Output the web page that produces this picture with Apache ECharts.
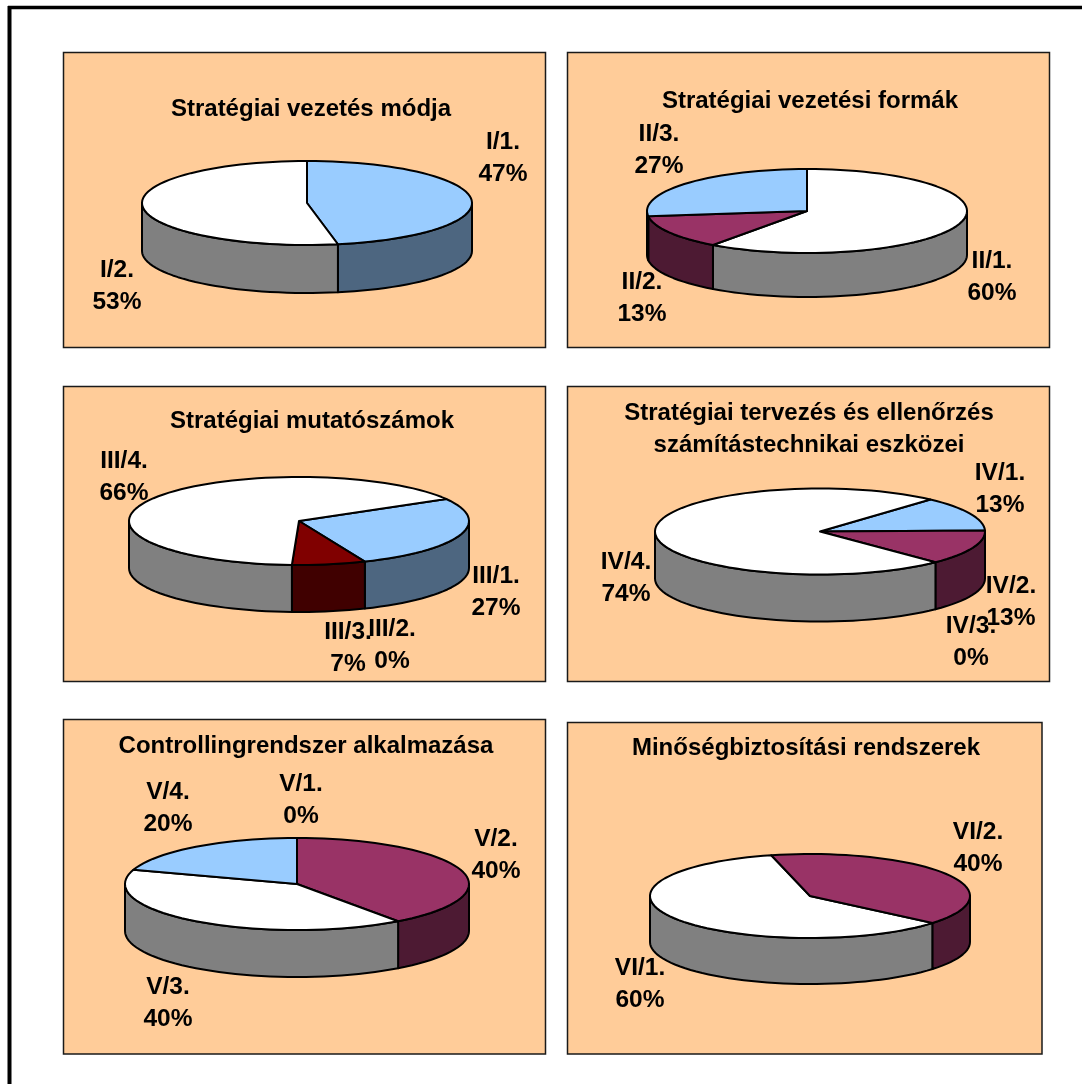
<!DOCTYPE html>
<html><head><meta charset="utf-8">
<style>html,body{margin:0;padding:0;background:#fff}#c{width:1082px;height:1084px}</style>
<script src="https://cdn.jsdelivr.net/npm/echarts@6/dist/echarts.min.js"></script>
</head><body><div id="c"></div>
<script>
// ---- chart values (percent) ----
const titles = [
  'Stratégiai vezetés módja',
  'Stratégiai vezetési formák',
  'Stratégiai mutatószámok',
  'Stratégiai tervezés és ellenőrzés\nszámítástechnikai eszközei',
  'Controllingrendszer alkalmazása',
  'Minőségbiztosítási rendszerek'
];
const names1 = ['I/1.', 'I/2.'];
const values1 = [47, 53];
const names2 = ['II/1.', 'II/2.', 'II/3.'];
const values2 = [60, 13, 27];
const names3 = ['III/1.', 'III/2.', 'III/3.', 'III/4.'];
const values3 = [27, 0, 7, 66];
const names4 = ['IV/1.', 'IV/2.', 'IV/3.', 'IV/4.'];
const values4 = [13, 13, 0, 74];
const names5 = ['V/1.', 'V/2.', 'V/3.', 'V/4.'];
const values5 = [0, 40, 40, 20];
const names6 = ['VI/1.', 'VI/2.'];
const values6 = [60, 40];

// ---- styling ----
const BLUE = ['#99CCFF', '#4D6680'], PURPLE = ['#993366', '#4D1A33'],
      WHITE = ['#FFFFFF', '#808080'], RED = ['#800000', '#400000'];
const FONT = 'bold 24.5px "Liberation Sans", Arial, sans-serif';

// ---- layout of the six panels ----
const panels = [
  {names:names1, values:values1, colors:[BLUE,WHITE], rect:[63,52,482,295], cx:307, cy:203, rx:165, ry:42, depth:48, start:0,
   titlePos:[311,109], labels:[[503,158],[117,286]]},
  {names:names2, values:values2, colors:[WHITE,PURPLE,BLUE], rect:[567,52,482,295], cx:807, cy:211, rx:160, ry:42, depth:44, start:0,
   titlePos:[810,101], labels:[[992,277],[642,298],[659,150]]},
  {names:names3, values:values3, colors:[BLUE,PURPLE,RED,WHITE], rect:[63,386,482,295], cx:299, cy:521, rx:170, ry:44, depth:47, start:60,
   titlePos:[312,421], labels:[[496,592],[392,645],[348,648],[124,477]]},
  {names:names4, values:values4, colors:[BLUE,PURPLE,WHITE,WHITE], rect:[567,386,482,295], cx:820, cy:531.5, rx:165, ry:43, depth:47, start:42,
   titlePos:[809,413], labels:[[1000,489],[1011,602],[971,642],[626,578]]},
  {names:names5, values:values5, colors:[BLUE,PURPLE,WHITE,BLUE], rect:[63,719,482,334.5], cx:297, cy:884, rx:172, ry:46, depth:47, start:0,
   titlePos:[306,746], labels:[[301,800],[496,855],[168,1003],[168,808]]},
  {names:names6, values:values6, colors:[WHITE,PURPLE], rect:[567,722,474.5,331.5], cx:810, cy:896, rx:160, ry:42, depth:46, start:130,
   titlePos:[806,748], labels:[[640,984],[978,848]]}
];

function arcPts(p, a0, a1, dy) {
  const pts = [], n = Math.max(1, Math.ceil(Math.abs(a1 - a0) / 3));
  for (let i = 0; i <= n; i++) {
    const a = (a0 + (a1 - a0) * i / n) * Math.PI / 180;
    pts.push([p.cx + p.rx * Math.sin(a), p.cy - p.ry * Math.cos(a) + dy]);
  }
  return pts;
}
const stroke = {stroke:'#000', lineWidth:2, lineJoin:'round'};

function makeRender(p) {
  return function (params, api) {
    const i = params.dataIndex, a0 = api.value(1), a1 = api.value(2);
    const kids = [];
    if (a1 > a0) {
      // visible front wall: parts of the slice between 90 and 270 degrees
      [-360, 0, 360].forEach(function (k) {
        const s = Math.max(a0, 90 + k), e = Math.min(a1, 270 + k);
        if (e > s) {
          const top = arcPts(p, s, e, 0), bot = arcPts(p, e, s, p.depth);
          kids.push({type:'polygon', z2:1, shape:{points:top.concat(bot)},
            style:Object.assign({fill:p.colors[i][1]}, stroke)});
        }
      });
      kids.push({type:'polygon', z2:2, shape:{points:[[p.cx, p.cy]].concat(arcPts(p, a0, a1, 0))},
        style:Object.assign({fill:p.colors[i][0]}, stroke)});
    }
    kids.push({type:'text', z2:10, style:{
      text:p.names[i] + '\n' + Math.round(api.value(0)) + '%',
      x:p.labels[i][0], y:p.labels[i][1], align:'center', verticalAlign:'middle',
      font:FONT, fill:'#000', lineHeight:32}});
    return {type:'group', children:kids};
  };
}

const series = panels.map(function (p) {
  let acc = p.start;
  const rows = p.values.map(function (v) {
    const r = [v, acc, acc + v * 3.6];
    acc = r[2];
    return r;
  });
  return {type:'custom', coordinateSystem:'none', silent:true, clip:false,
          data:rows, renderItem:makeRender(p), animation:false};
});

const graphic = panels.map(function (p) {
  return {type:'rect', silent:true, z:0,
    shape:{x:p.rect[0]+.5, y:p.rect[1]+.5, width:p.rect[2], height:p.rect[3]},
    style:{fill:'#FFCC99', stroke:'#1a1a1a', lineWidth:1.5}};
});
graphic.push({type:'line', silent:true, shape:{x1:9.5,y1:6,x2:9.5,y2:1084}, style:{stroke:'#000',lineWidth:4}});
graphic.push({type:'line', silent:true, shape:{x1:8,y1:7.5,x2:1082,y2:7.5}, style:{stroke:'#000',lineWidth:3.5}});

const chart = echarts.init(document.getElementById('c'), null, {renderer:'canvas'});
chart.setOption({
  animation:false, backgroundColor:'#fff',
  title: panels.map(function (p, i) {
    return {text:titles[i], left:p.titlePos[0], top:p.titlePos[1] - 16, textAlign:'center', padding:0,
      textStyle:{fontFamily:'"Liberation Sans", Arial, sans-serif', fontWeight:'bold', fontSize:24, color:'#000', lineHeight:32}};
  }),
  graphic:graphic,
  series:series
});
</script></body></html>
